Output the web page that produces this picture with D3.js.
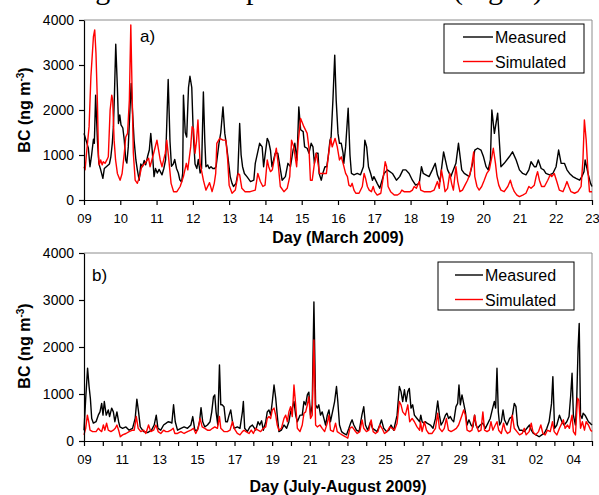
<!DOCTYPE html>
<html>
<head>
<meta charset="utf-8">
<script src="https://cdn.jsdelivr.net/npm/d3@7"></script>
<style>
  body { margin: 0; background: #fff; }
  svg { display: block; font-family: "Liberation Sans", Arial, sans-serif; }
  .axis path, .axis line { stroke: #000; }
  .axis text { fill: #000; }
</style>
</head>
<body>
<div id="chart"></div>
<script>
var chart_width  = 599;
var chart_height = 495;

var march_days   = d3.range(9, 24);
var march_labels = ['09','10','11','12','13','14','15','16','17','18','19','20','21','22','23'];
var july_days    = d3.range(0, 28);   // days since 9 July
var july_labels  = ['09','11','13','15','17','19','21','23','25','27','29','31','02','04'];
var y_ticks      = [0, 1000, 2000, 3000, 4000];
var series_names = ['Measured', 'Simulated'];

// [day of March, BC ng m-3]
var march_measured = [
  [9.00,1480],[9.055,1330],[9.12,1150],[9.165,740],[9.21,1000],[9.26,1350],[9.285,1260],[9.32,2330],[9.37,1330],[9.41,815],
  [9.46,670],[9.52,480],[9.56,700],[9.63,750],[9.70,800],[9.74,960],[9.78,1260],[9.81,1630],[9.84,2370],[9.875,3460],
  [9.92,2500],[9.95,1700],[9.985,1890],[10.02,1670],[10.07,1600],[10.11,1330],[10.15,890],[10.18,820],[10.22,1180],[10.27,2070],
  [10.30,2590],[10.335,2000],[10.38,1330],[10.43,890],[10.47,670],[10.52,440],[10.565,800],[10.61,740],[10.66,880],[10.70,780],
  [10.75,960],[10.80,1110],[10.84,1480],[10.88,1100],[10.93,520],[10.97,700],[11.02,600],[11.07,680],[11.15,560],[11.20,700],
  [11.25,900],[11.32,2680],[11.37,1300],[11.41,750],[11.46,800],[11.50,900],[11.55,700],[11.60,600],[11.64,450],[11.69,400],
  [11.72,600],[11.74,2330],[11.79,1500],[11.83,1400],[11.88,2500],[11.92,2750],[11.97,2500],[12.01,1500],[12.06,800],[12.11,700],
  [12.15,900],[12.20,600],[12.24,700],[12.29,2400],[12.33,1300],[12.36,740],[12.41,780],[12.45,700],[12.50,740],[12.55,700],
  [12.60,700],[12.64,740],[12.68,1000],[12.72,1260],[12.77,1500],[12.83,2070],[12.88,1480],[12.92,1260],[12.96,1000],[13.03,520],
  [13.08,370],[13.12,300],[13.19,370],[13.24,600],[13.29,1700],[13.33,1000],[13.37,740],[13.42,590],[13.49,520],[13.59,410],
  [13.68,440],[13.72,815],[13.84,1260],[13.91,1180],[13.95,740],[14.05,1370],[14.09,1300],[14.14,1100],[14.18,740],[14.27,1040],
  [14.34,1040],[14.46,440],[14.55,520],[14.62,815],[14.69,740],[14.76,1100],[14.81,1260],[14.87,890],[14.92,2070],[14.97,1560],
  [15.04,1520],[15.08,1180],[15.15,1150],[15.20,1040],[15.26,1260],[15.31,1180],[15.35,815],[15.40,1040],[15.45,1040],[15.48,590],
  [15.54,440],[15.58,590],[15.64,740],[15.69,740],[15.73,960],[15.78,1330],[15.81,1400],[15.86,2220],[15.91,3220],[15.95,2220],
  [16.00,1480],[16.04,1260],[16.09,1260],[16.14,1040],[16.16,815],[16.21,1180],[16.28,2040],[16.33,1000],[16.37,590],[16.44,560],
  [16.53,590],[16.62,560],[16.70,740],[16.74,1330],[16.79,1180],[16.84,740],[16.90,590],[16.95,440],[16.99,520],[17.08,370],
  [17.15,260],[17.27,590],[17.36,670],[17.50,590],[17.61,440],[17.70,520],[17.79,670],[17.87,670],[17.96,590],[18.05,440],
  [18.14,330],[18.24,370],[18.30,740],[18.35,590],[18.42,560],[18.51,520],[18.60,670],[18.68,815],[18.74,560],[18.81,410],
  [18.91,1070],[19.02,670],[19.11,520],[19.25,815],[19.32,1260],[19.41,670],[19.48,590],[19.62,520],[19.71,815],[19.77,1110],
  [19.85,1150],[19.94,1110],[20.01,960],[20.08,740],[20.14,670],[20.20,890],[20.24,2000],[20.31,1480],[20.40,1930],[20.45,1260],
  [20.49,740],[20.58,815],[20.72,960],[20.81,1070],[20.91,890],[21.00,670],[21.09,590],[21.18,560],[21.26,670],[21.32,850],
  [21.41,740],[21.46,740],[21.52,890],[21.60,700],[21.67,670],[21.73,590],[21.83,560],[21.92,590],[22.01,740],[22.08,1110],
  [22.15,815],[22.24,815],[22.31,670],[22.38,590],[22.47,520],[22.56,480],[22.66,440],[22.72,520],[22.78,630],[22.81,890],
  [22.89,590],[22.96,370],[23.00,300]
];

var march_simulated = [
  [9.00,740],[9.03,670],[9.07,1040],[9.14,1630],[9.19,2740],[9.26,3630],[9.295,3780],[9.33,3260],[9.37,2150],[9.40,960],
  [9.42,780],[9.46,890],[9.50,780],[9.53,850],[9.58,815],[9.63,890],[9.67,960],[9.72,2000],[9.765,2330],[9.79,2220],
  [9.83,1330],[9.87,890],[9.92,590],[9.995,440],[10.05,590],[10.11,1040],[10.15,1400],[10.20,1480],[10.25,2220],[10.29,3890],
  [10.33,2220],[10.36,1040],[10.41,440],[10.47,370],[10.53,520],[10.59,740],[10.68,815],[10.78,930],[10.82,740],[10.92,1040],
  [11.01,1330],[11.10,890],[11.15,740],[11.24,1040],[11.28,1330],[11.33,960],[11.40,370],[11.47,185],[11.56,185],[11.65,300],
  [11.74,520],[11.82,815],[11.86,670],[11.94,1180],[11.98,1630],[12.02,1580],[12.06,1040],[12.10,1300],[12.14,1780],[12.20,815],
  [12.29,440],[12.36,220],[12.46,385],[12.53,185],[12.59,370],[12.63,590],[12.66,1260],[12.74,1370],[12.83,1330],[12.91,1330],
  [12.96,890],[13.00,330],[13.08,150],[13.17,220],[13.25,590],[13.29,560],[13.35,260],[13.44,185],[13.58,185],[13.72,220],
  [13.79,590],[13.86,410],[13.93,300],[13.99,330],[14.05,890],[14.09,740],[14.14,630],[14.19,670],[14.25,930],[14.30,1150],
  [14.35,815],[14.41,300],[14.51,185],[14.60,260],[14.67,520],[14.72,1330],[14.78,1180],[14.86,740],[14.90,1260],[14.97,1810],
  [15.06,1630],[15.15,1480],[15.20,1150],[15.24,440],[15.29,440],[15.35,815],[15.40,1040],[15.45,815],[15.49,590],[15.61,590],
  [15.68,590],[15.73,960],[15.80,1370],[15.84,1180],[15.92,1370],[15.98,1180],[16.04,890],[16.09,960],[16.14,815],[16.21,590],
  [16.26,520],[16.30,330],[16.35,300],[16.39,370],[16.44,220],[16.49,150],[16.58,150],[16.67,300],[16.72,590],[16.76,480],
  [16.81,300],[16.86,220],[16.92,185],[16.97,300],[17.01,185],[17.08,110],[17.18,150],[17.25,520],[17.30,850],[17.34,740],
  [17.38,300],[17.45,185],[17.55,110],[17.64,110],[17.71,150],[17.76,220],[17.82,185],[17.91,185],[17.99,185],[18.05,220],
  [18.10,300],[18.16,260],[18.24,410],[18.28,220],[18.37,185],[18.47,185],[18.56,185],[18.65,220],[18.74,410],[18.79,260],
  [18.85,670],[18.91,410],[18.95,185],[19.02,260],[19.08,590],[19.13,370],[19.18,220],[19.25,740],[19.30,410],[19.36,185],
  [19.43,220],[19.50,330],[19.57,440],[19.64,590],[19.68,740],[19.74,1070],[19.77,520],[19.83,300],[19.89,220],[19.96,300],
  [20.03,440],[20.10,590],[20.17,670],[20.24,960],[20.28,1150],[20.34,815],[20.38,520],[20.43,330],[20.49,220],[20.58,185],
  [20.68,300],[20.75,440],[20.80,300],[20.86,185],[20.93,110],[21.00,75],[21.09,110],[21.18,150],[21.26,300],[21.32,260],
  [21.41,330],[21.46,520],[21.50,630],[21.55,440],[21.61,300],[21.69,300],[21.78,440],[21.85,560],[21.89,520],[21.96,590],
  [22.03,410],[22.10,220],[22.20,185],[22.26,300],[22.31,410],[22.36,300],[22.42,185],[22.52,150],[22.61,185],[22.70,300],
  [22.75,890],[22.79,1780],[22.84,1330],[22.88,740],[22.93,185],[23.00,185]
];

// [days since 9 July 2009, BC ng m-3]
var july_measured = [
  [0,230],[0.09,900],[0.19,1550],[0.27,1160],[0.34,900],[0.41,480],[0.50,380],[0.64,410],[0.76,550],[0.85,620],
  [0.94,800],[1.01,550],[1.08,840],[1.18,550],[1.29,660],[1.36,520],[1.47,700],[1.56,620],[1.64,410],[1.75,620],
  [1.84,410],[1.91,300],[2.05,270],[2.23,300],[2.40,230],[2.58,270],[2.72,480],[2.81,890],[2.90,620],[2.99,300],
  [3.17,200],[3.38,180],[3.59,230],[3.73,340],[3.84,550],[3.93,270],[4.08,230],[4.23,340],[4.37,380],[4.47,410],
  [4.58,400],[4.67,380],[4.76,770],[4.85,410],[4.97,230],[5.15,270],[5.32,300],[5.50,270],[5.68,340],[5.78,520],
  [5.89,230],[6.03,230],[6.14,410],[6.22,710],[6.31,410],[6.42,300],[6.56,340],[6.70,410],[6.79,620],[6.88,940],
  [6.95,980],[7.02,620],[7.11,340],[7.20,1620],[7.27,770],[7.34,770],[7.44,730],[7.53,410],[7.62,410],[7.71,550],
  [7.80,660],[7.89,410],[7.98,270],[8.15,300],[8.29,270],[8.42,620],[8.47,840],[8.54,270],[8.68,200],[8.82,300],
  [8.95,340],[9.13,230],[9.25,410],[9.34,340],[9.44,430],[9.53,230],[9.66,410],[9.74,620],[9.83,660],[9.92,550],
  [10.01,840],[10.10,1190],[10.19,910],[10.27,550],[10.36,200],[10.49,230],[10.63,340],[10.77,270],[10.89,410],[10.98,620],
  [11.07,700],[11.16,840],[11.25,550],[11.34,410],[11.48,550],[11.60,550],[11.69,840],[11.78,770],[11.87,980],[11.95,1040],
  [12.04,550],[12.13,770],[12.22,2960],[12.31,770],[12.40,700],[12.48,770],[12.57,550],[12.66,620],[12.75,480],[12.84,340],
  [12.93,550],[13.02,660],[13.10,410],[13.25,700],[13.32,840],[13.42,1160],[13.49,840],[13.58,340],[13.69,200],[13.81,160],
  [13.95,130],[14.08,270],[14.17,380],[14.25,450],[14.34,340],[14.48,230],[14.62,200],[14.77,550],[14.87,730],[14.96,340],
  [15.08,230],[15.23,410],[15.33,270],[15.47,230],[15.58,200],[15.72,340],[15.81,450],[15.93,270],[16.08,200],[16.20,230],
  [16.32,340],[16.46,230],[16.64,550],[16.76,1160],[16.85,1050],[16.94,840],[17.03,1090],[17.12,840],[17.21,1050],[17.29,1120],
  [17.38,700],[17.47,770],[17.56,550],[17.70,480],[17.84,410],[17.90,550],[17.97,410],[18.06,380],[18.15,410],[18.23,380],
  [18.41,340],[18.55,270],[18.68,480],[18.80,850],[18.89,550],[18.98,340],[19.08,410],[19.21,550],[19.29,590],[19.38,480],
  [19.47,520],[19.56,450],[19.65,410],[19.77,730],[19.86,800],[19.93,1190],[20.00,770],[20.09,980],[20.18,800],[20.27,620],
  [20.36,340],[20.46,450],[20.57,340],[20.67,300],[20.76,550],[20.83,340],[20.92,270],[21.06,340],[21.20,380],[21.33,270],
  [21.47,380],[21.59,480],[21.72,700],[21.81,840],[21.88,700],[21.95,1550],[22.02,620],[22.09,340],[22.18,410],[22.27,660],
  [22.35,450],[22.48,340],[22.62,480],[22.76,520],[22.87,800],[22.96,730],[23.04,340],[23.15,230],[23.27,230],[23.40,200],
  [23.54,270],[23.68,340],[23.77,230],[23.89,160],[24.03,130],[24.19,90],[24.33,130],[24.46,160],[24.60,270],[24.72,410],
  [24.85,800],[24.92,1370],[25.01,270],[25.13,340],[25.27,550],[25.40,410],[25.52,340],[25.66,410],[25.78,520],[25.87,980],
  [25.94,1440],[26.01,550],[26.12,340],[26.19,910],[26.26,1970],[26.32,2500],[26.39,550],[26.47,480],[26.53,590],[26.63,550],
  [26.72,480],[26.81,410],[26.90,380],[27.00,340]
];

var july_simulated = [
  [0,130],[0.09,270],[0.18,550],[0.25,410],[0.32,230],[0.46,200],[0.64,200],[0.76,270],[0.85,230],[0.94,200],
  [1.03,340],[1.11,230],[1.20,380],[1.29,230],[1.43,200],[1.56,230],[1.66,270],[1.75,340],[1.84,230],[1.93,90],
  [2.05,130],[2.23,160],[2.40,200],[2.58,230],[2.67,230],[2.78,520],[2.88,270],[3.02,200],[3.17,230],[3.29,160],
  [3.43,340],[3.55,200],[3.70,230],[3.82,340],[3.94,200],[4.08,160],[4.23,230],[4.35,200],[4.47,200],[4.62,230],
  [4.74,270],[4.83,160],[4.97,160],[5.15,200],[5.32,160],[5.50,200],[5.68,230],[5.82,270],[5.94,160],[6.07,270],
  [6.17,480],[6.28,300],[6.42,270],[6.56,230],[6.70,230],[6.83,270],[6.95,300],[7.09,270],[7.20,520],[7.27,270],
  [7.44,200],[7.62,200],[7.76,230],[7.89,410],[7.98,270],[8.15,160],[8.29,130],[8.42,200],[8.51,230],[8.61,200],
  [8.77,160],[8.89,230],[9.00,160],[9.13,270],[9.25,230],[9.39,200],[9.53,270],[9.66,300],[9.74,480],[9.83,520],
  [9.92,480],[10.01,660],[10.10,700],[10.19,550],[10.27,340],[10.36,230],[10.49,270],[10.63,480],[10.72,550],[10.81,410],
  [10.89,620],[10.98,730],[11.07,520],[11.16,1190],[11.25,770],[11.34,270],[11.48,200],[11.60,340],[11.69,590],[11.78,620],
  [11.87,770],[11.95,940],[12.04,480],[12.13,550],[12.22,2150],[12.31,340],[12.40,300],[12.54,340],[12.66,270],[12.79,200],
  [12.93,380],[13.02,550],[13.10,230],[13.25,200],[13.37,380],[13.46,200],[13.60,160],[13.72,130],[13.90,90],[14.02,60],
  [14.13,270],[14.25,300],[14.38,230],[14.52,160],[14.66,200],[14.78,450],[14.87,270],[15.01,200],[15.14,230],[15.26,450],
  [15.37,200],[15.49,160],[15.62,200],[15.72,340],[15.84,270],[15.97,160],[16.11,200],[16.25,300],[16.38,270],[16.50,230],
  [16.64,380],[16.76,840],[16.85,770],[16.94,620],[17.08,550],[17.21,770],[17.31,410],[17.44,480],[17.56,410],[17.70,300],
  [17.84,230],[17.88,410],[17.97,200],[18.09,410],[18.20,230],[18.32,160],[18.50,160],[18.68,270],[18.80,590],[18.89,270],
  [19.03,200],[19.15,270],[19.26,480],[19.37,230],[19.51,200],[19.65,230],[19.79,270],[19.91,340],[20.09,550],[20.18,660],
  [20.27,550],[20.36,230],[20.50,200],[20.62,230],[20.76,550],[20.85,340],[20.97,200],[21.10,230],[21.20,620],[21.29,230],
  [21.42,200],[21.54,230],[21.63,410],[21.73,230],[21.86,340],[21.95,410],[22.04,230],[22.18,160],[22.30,380],[22.39,230],
  [22.51,160],[22.65,200],[22.76,550],[22.87,270],[23.01,200],[23.15,130],[23.29,160],[23.40,270],[23.50,130],[23.66,200],
  [23.77,380],[23.86,200],[24.00,130],[24.16,200],[24.28,340],[24.39,160],[24.51,130],[24.63,230],[24.78,200],[24.90,410],
  [24.99,200],[25.13,130],[25.27,270],[25.40,380],[25.48,450],[25.57,270],[25.70,340],[25.80,270],[25.87,410],[25.94,550],
  [26.01,200],[26.12,130],[26.23,910],[26.30,870],[26.39,270],[26.49,410],[26.60,230],[26.69,410],[26.81,340],[26.93,230],
  [27.00,200]
];

var colors = ['#000000', '#ff0000'];

var svg = d3.select('#chart')
            .append('svg')
            .attr('width', chart_width)
            .attr('height', chart_height);

// bits of the page text above the figure, cut off by the crop
svg.append('text')
    .attr('y', -1)
    .attr('font-family', '"Liberation Serif", "Times New Roman", serif')
    .attr('font-size', 30)
    .attr('fill', '#000')
    .selectAll('tspan')
    .data([[72, 'ing'], [246, 'p'], [453, '(Fig. 7)']])
    .enter()
    .append('tspan')
    .attr('x', (d) => d[0])
    .text((d) => d[1]);

function drawPanel(cfg) {
    var x_scale = d3.scaleLinear().domain(cfg.x_domain).range([cfg.left, cfg.right]);
    var y_scale = d3.scaleLinear().domain([0, 4000]).range([cfg.bottom, cfg.top]);

    var g = svg.append('g');

    // grey frame top/right
    g.append('path')
        .attr('d', 'M' + cfg.left + ',' + cfg.top + 'H' + cfg.right + 'V' + cfg.bottom)
        .attr('fill', 'none')
        .attr('stroke', '#8c8c8c')
        .attr('stroke-width', 1);

    var line = d3.line()
                 .x((d) => x_scale(d[0]))
                 .y((d) => y_scale(d[1]));

    [cfg.measured, cfg.simulated].forEach((s, i) => {
        g.append('path')
            .datum(s)
            .attr('d', line)
            .attr('fill', 'none')
            .attr('stroke', colors[i])
            .attr('stroke-width', 1.4)
            .attr('stroke-linejoin', 'round');
    });

    var y_axis = d3.axisLeft(y_scale)
                   .tickValues(y_ticks)
                   .tickFormat(d3.format('d'))
                   .tickSize(5)
                   .tickSizeOuter(0)
                   .tickPadding(5);
    g.append('g')
        .attr('class', 'axis')
        .attr('transform', 'translate(' + cfg.left + ',0)')
        .call(y_axis)
        .selectAll('text')
        .attr('font-size', 14)
        .attr('font-family', '"Liberation Sans", Arial, sans-serif');

    var x_axis = d3.axisBottom(x_scale)
                   .tickValues(cfg.x_ticks)
                   .tickFormat(cfg.x_format)
                   .tickSize(5)
                   .tickSizeOuter(0)
                   .tickPadding(9);
    g.append('g')
        .attr('class', 'axis')
        .attr('transform', 'translate(0,' + cfg.bottom + ')')
        .call(x_axis)
        .selectAll('text')
        .attr('font-size', 13)
        .attr('font-family', '"Liberation Sans", Arial, sans-serif');

    g.selectAll('.axis path, .axis line').attr('stroke-width', 1.2);

    // y title
    var yt = g.append('text')
        .attr('transform', 'translate(' + cfg.ylab_x + ',' + cfg.ylab_y + ') rotate(-90)')
        .attr('text-anchor', 'middle')
        .attr('font-size', 16)
        .attr('font-weight', 'bold');
    yt.append('tspan').text('BC (ng m');
    yt.append('tspan').attr('font-size', 10).attr('dy', -6).text('-3');
    yt.append('tspan').attr('dy', 6).text(')');

    // x title
    g.append('text')
        .attr('x', (cfg.left + cfg.right) / 2)
        .attr('y', cfg.xlab_y)
        .attr('text-anchor', 'middle')
        .attr('font-size', 16)
        .attr('font-weight', 'bold')
        .text(cfg.x_title);

    // panel letter
    g.append('text')
        .attr('x', cfg.letter[0])
        .attr('y', cfg.letter[1])
        .attr('font-size', 17)
        .text(cfg.letter_text);

    // legend
    var lg = g.append('g').attr('transform', 'translate(' + cfg.legend[0] + ',' + cfg.legend[1] + ')');
    lg.append('rect')
        .attr('width', cfg.legend[2])
        .attr('height', cfg.legend[3])
        .attr('fill', '#fff')
        .attr('stroke', '#000')
        .attr('stroke-width', 1);
    series_names.forEach((name, i) => {
        var cy = 13 + i * 24.5;
        lg.append('line')
            .attr('x1', cfg.legend_line[0])
            .attr('x2', cfg.legend_line[1])
            .attr('y1', cy)
            .attr('y2', cy)
            .attr('stroke', colors[i])
            .attr('stroke-width', 1.4);
        lg.append('text')
            .attr('x', cfg.legend_line[1] + 2)
            .attr('y', cy + 6)
            .attr('font-size', 16)
            .text(name);
    });
}

drawPanel({
    x_domain: [9, 23], left: 84, right: 592, top: 20, bottom: 200,
    x_ticks: march_days,
    x_format: (d, i) => march_labels[i],
    measured: march_measured, simulated: march_simulated,
    ylab_x: 30, ylab_y: 110, xlab_y: 243,
    x_title: 'Day (March 2009)',
    letter: [140, 42], letter_text: 'a)',
    legend: [444, 24, 140, 49], legend_line: [19, 49]
});

drawPanel({
    x_domain: [0, 27], left: 84, right: 592, top: 253, bottom: 441,
    x_ticks: july_days,
    x_format: (d) => (d % 2 === 0 && d < 27) ? july_labels[d / 2] : '',
    measured: july_measured, simulated: july_simulated,
    ylab_x: 30, ylab_y: 346, xlab_y: 492,
    x_title: 'Day (July-August 2009)',
    letter: [92, 281], letter_text: 'b)',
    legend: [438, 262, 136, 48], legend_line: [17, 45]
});
</script>
</body>
</html>
